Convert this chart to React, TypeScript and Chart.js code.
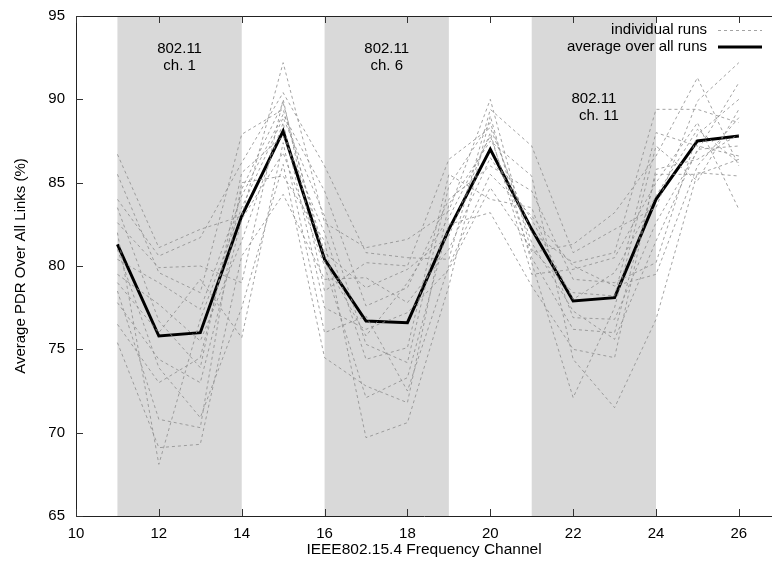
import React, { useEffect, useRef } from 'react';
import { Chart, registerables } from 'chart.js';

Chart.register(...registerables);

const channels = [11, 12, 13, 14, 15, 16, 17, 18, 19, 20, 21, 22, 23, 24, 25, 26];
const averagePDR = [81.3, 75.8, 76.0, 83.0, 88.1, 80.4, 76.7, 76.6, 82.2, 87.0, 82.2, 77.9, 78.1, 84.0, 87.5, 87.8];

// individual run values, one list per channel (index = run number)
const runsCh11 = [86.7, 84.0, 82.6, 85.5, 80.4, 79.5, 83.5, 77.8, 81.0, 78.5, 75.4, 82.0, 79.0, 76.5];
const runsCh12 = [81.1, 80.6, 79.9, 79.6, 79.0, 77.7, 76.7, 74.4, 73.9, 70.8, 69.1, 68.1, 76.0, 73.0];
const runsCh13 = [82.2, 81.7, 80.0, 78.4, 77.4, 75.5, 73.9, 73.0, 70.9, 70.3, 69.3, 76.8, 79.2, 74.5];
const runsCh14 = [83.0, 86.2, 79.0, 87.9, 84.2, 81.5, 85.6, 82.8, 77.5, 85.0, 80.6, 83.5, 75.7, 84.6];
const runsCh15 = [92.2, 90.4, 90.0, 89.4, 89.1, 88.6, 87.8, 86.8, 86.1, 85.4, 84.3, 88.9, 87.4, 89.8];
const runsCh16 = [82.6, 86.0, 78.5, 80.8, 84.5, 77.5, 82.0, 80.0, 74.5, 81.5, 79.2, 83.0, 76.0, 80.3];
const runsCh17 = [81.1, 80.8, 80.2, 78.7, 77.6, 76.2, 74.4, 72.1, 72.8, 69.7, 79.3, 75.3, 77.0, 75.8];
const runsCh18 = [81.6, 80.5, 80.0, 79.8, 78.7, 77.2, 75.1, 73.3, 71.8, 70.6, 77.8, 74.2, 72.5, 79.0];
const runsCh19 = [83.3, 80.4, 86.4, 81.8, 84.0, 79.8, 85.5, 82.5, 83.7, 78.8, 81.0, 84.8, 80.0, 82.9];
const runsCh20 = [90.0, 89.4, 88.3, 88.0, 86.0, 84.7, 84.0, 83.2, 87.5, 89.0, 86.5, 88.6, 85.5, 87.8];
const runsCh21 = [80.8, 87.2, 82.0, 79.5, 84.5, 81.0, 83.5, 78.8, 85.4, 80.2, 82.8, 81.4, 83.0, 80.5];
const runsCh22 = [81.3, 80.8, 80.2, 79.8, 79.2, 78.4, 76.9, 75.0, 74.4, 72.1, 78.0, 77.3, 80.0, 76.2];
const runsCh23 = [83.2, 82.2, 80.8, 80.5, 79.0, 78.2, 76.8, 74.5, 71.5, 77.5, 79.6, 75.6, 78.8, 76.0];
const runsCh24 = [86.6, 83.5, 89.4, 85.0, 80.2, 88.0, 82.6, 85.8, 76.8, 87.2, 84.2, 81.5, 79.5, 85.5];
const runsCh25 = [91.3, 89.9, 89.4, 88.6, 87.9, 87.2, 86.9, 86.4, 85.6, 85.1, 88.2, 87.0, 86.0, 85.5];
const runsCh26 = [86.0, 92.2, 88.6, 83.4, 90.0, 86.6, 91.0, 87.9, 85.4, 89.4, 86.2, 87.2, 88.9, 86.4];

const runsByChannel = [
  runsCh11, runsCh12, runsCh13, runsCh14, runsCh15, runsCh16, runsCh17, runsCh18,
  runsCh19, runsCh20, runsCh21, runsCh22, runsCh23, runsCh24, runsCh25, runsCh26,
];

const xTicks = [10, 12, 14, 16, 18, 20, 22, 24, 26];
const yTicks = [65, 70, 75, 80, 85, 90, 95];

const shadedStarts = [11, 16, 21];
const shadedEnds = [14, 19, 24];
const shadeLabelLines = [['802.11', 'ch. 1'], ['802.11', 'ch. 6'], ['802.11', 'ch. 11']];
const shadeLabelX = [12.5, 17.5, 22.5];
const shadeLabelY = [93.0, 93.0, 90.0];

const legendLabels = ['individual runs', 'average over all runs'];

const FONT = '"Liberation Sans", Arial, Helvetica, sans-serif';
const RUN_COLOR = '#8c8c8c';
const SHADE_COLOR = '#d9d9d9';

export default function App() {
  const canvasRef = useRef<HTMLCanvasElement | null>(null);

  useEffect(() => {
    const canvas = canvasRef.current;
    if (!canvas) return;

    const nRuns = runsCh11.length;
    const runDatasets = [];
    for (let r = 0; r < nRuns; r++) {
      runDatasets.push({
        label: 'run ' + (r + 1),
        data: channels.map((c, i) => ({ x: c, y: runsByChannel[i][r] })),
        borderColor: RUN_COLOR,
        borderWidth: 0.8,
        borderDash: [3, 3],
        pointRadius: 0,
        fill: false,
        tension: 0,
      });
    }

    const decorPlugin = {
      id: 'decor',
      beforeDatasetsDraw(chart: any) {
        const { ctx, chartArea, scales } = chart;
        const xs = scales.x;
        const ys = scales.y;
        ctx.save();
        ctx.fillStyle = SHADE_COLOR;
        for (let i = 0; i < shadedStarts.length; i++) {
          const x0 = xs.getPixelForValue(shadedStarts[i]);
          const x1 = xs.getPixelForValue(shadedEnds[i]);
          ctx.fillRect(x0, chartArea.top, x1 - x0, chartArea.bottom - chartArea.top);
        }
        ctx.fillStyle = '#000';
        ctx.font = '15px ' + FONT;
        ctx.textAlign = 'center';
        ctx.textBaseline = 'middle';
        for (let i = 0; i < shadeLabelLines.length; i++) {
          const cx = xs.getPixelForValue(shadeLabelX[i]);
          const cy = ys.getPixelForValue(shadeLabelY[i]);
          shadeLabelLines[i].forEach((line, k) => {
            ctx.fillText(line, cx + (i === 2 && k === 1 ? 5 : 0), cy + k * 17);
          });
        }
        ctx.restore();
      },
      afterDatasetsDraw(chart: any) {
        const { ctx, chartArea, scales } = chart;
        const xs = scales.x;
        const ys = scales.y;
        ctx.save();
        ctx.strokeStyle = '#222';
        ctx.lineWidth = 1;
        // top border
        ctx.beginPath();
        ctx.moveTo(chartArea.left, chartArea.top + 0.5);
        ctx.lineTo(chartArea.right, chartArea.top + 0.5);
        ctx.stroke();
        // inward ticks
        ctx.strokeStyle = '#333';
        ctx.beginPath();
        xTicks.forEach((t) => {
          const px = Math.round(xs.getPixelForValue(t)) + 0.5;
          ctx.moveTo(px, chartArea.bottom);
          ctx.lineTo(px, chartArea.bottom - 7);
          ctx.moveTo(px, chartArea.top);
          ctx.lineTo(px, chartArea.top + 7);
        });
        yTicks.forEach((t) => {
          const py = Math.round(ys.getPixelForValue(t)) + 0.5;
          ctx.moveTo(chartArea.left, py);
          ctx.lineTo(chartArea.left + 7, py);
        });
        ctx.stroke();

        // legend
        const textRight = chartArea.right - 65;
        const lineX0 = textRight + 11;
        const lineX1 = textRight + 55;
        const y0 = chartArea.top + 14;
        const y1 = chartArea.top + 31;
        ctx.font = '15px ' + FONT;
        ctx.fillStyle = '#000';
        ctx.textAlign = 'right';
        ctx.textBaseline = 'middle';
        ctx.fillText(legendLabels[0], textRight, y0);
        ctx.fillText(legendLabels[1], textRight, y1);
        ctx.strokeStyle = RUN_COLOR;
        ctx.lineWidth = 0.8;
        ctx.setLineDash([3, 3]);
        ctx.beginPath();
        ctx.moveTo(lineX0, y0 + 0.5);
        ctx.lineTo(lineX1, y0 + 0.5);
        ctx.stroke();
        ctx.setLineDash([]);
        ctx.strokeStyle = '#000';
        ctx.lineWidth = 3;
        ctx.beginPath();
        ctx.moveTo(lineX0, y1);
        ctx.lineTo(lineX1, y1);
        ctx.stroke();
        ctx.restore();
      },
    };

    const chart = new Chart(canvas, {
      type: 'line',
      data: {
        datasets: [
          ...runDatasets,
          {
            label: legendLabels[1],
            data: channels.map((c, i) => ({ x: c, y: averagePDR[i] })),
            borderColor: '#000',
            borderWidth: 3,
            pointRadius: 0,
            fill: false,
            tension: 0,
          },
        ],
      },
      options: {
        animation: false,
        responsive: false,
        maintainAspectRatio: false,
        layout: { padding: { top: 16, right: 0, left: 0, bottom: 0 } },
        plugins: {
          legend: { display: false },
          tooltip: { enabled: false },
        },
        scales: {
          x: {
            type: 'linear',
            min: 10,
            max: 26.8,
            grid: { display: false, drawTicks: false },
            border: { display: true, color: '#222', width: 1 },
            ticks: {
              stepSize: 2,
              includeBounds: false,
              padding: 9,
              color: '#000',
              font: { size: 15, family: FONT },
              maxRotation: 0,
            },
            title: {
              display: true,
              text: 'IEEE802.15.4 Frequency Channel',
              color: '#000',
              font: { size: 15.5, family: FONT },
              padding: { top: 0, bottom: 6 },
            },
            afterFit(scale: any) {
              scale.height = 49;
            },
          },
          y: {
            type: 'linear',
            min: 65,
            max: 95,
            grid: { display: false, drawTicks: false },
            border: { display: true, color: '#222', width: 1 },
            ticks: {
              stepSize: 5,
              padding: 11,
              color: '#000',
              font: { size: 15, family: FONT },
            },
            title: {
              display: true,
              text: 'Average PDR Over All Links (%)',
              color: '#000',
              font: { size: 15, family: FONT },
              padding: { top: 12, bottom: 0 },
            },
            afterFit(scale: any) {
              scale.width = 76;
              scale.paddingTop = 0;
              scale.paddingBottom = 0;
            },
          },
        },
      },
      plugins: [decorPlugin],
    });

    return () => {
      chart.destroy();
    };
  }, []);

  return (
    <div style={{ position: 'absolute', left: 0, top: 0, width: 772, height: 565, background: '#fff' }}>
      <canvas ref={canvasRef} width={772} height={565} style={{ display: 'block', width: 772, height: 565 }} />
    </div>
  );
}
